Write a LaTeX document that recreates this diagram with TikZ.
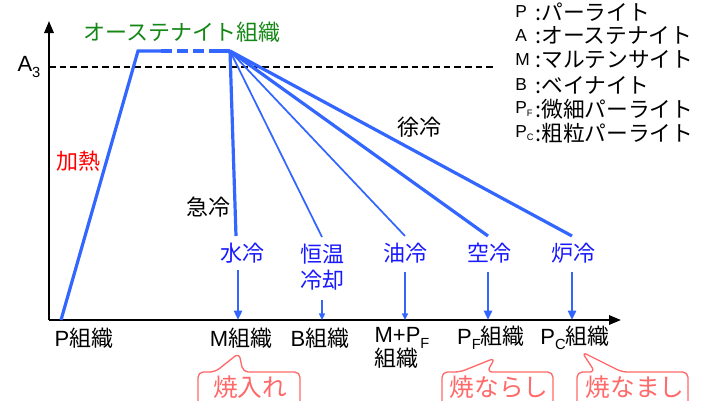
\documentclass[tikz,border=0pt]{standalone}
\usepackage{fontspec}
\setmainfont{Noto Sans CJK JP}
\newfontfamily\lat{Liberation Sans}
\usetikzlibrary{arrows.meta}
\definecolor{lineblue}{RGB}{51,102,255}
\definecolor{labblue}{RGB}{25,25,255}
\definecolor{austgreen}{RGB}{20,135,20}
\definecolor{callred}{RGB}{255,105,105}
\newcommand\lowsub[1]{\raisebox{-0.45ex}{\lat\fontsize{11}{11}\selectfont #1}}
\newcommand\legsub[1]{\raisebox{-0.3ex}{\lat\fontsize{7}{8}\selectfont #1}}
\tikzset{
  ax/.style={line width=1.6pt,-{Triangle[length=9pt,width=7pt]}},
  thickc/.style={line width=2.4pt,lineblue},
  thinc/.style={line width=1.3pt,lineblue},
  thickarr/.style={line width=2.2pt,lineblue,-{Triangle[length=7pt,width=6pt]}},
  thinarr/.style={line width=1.1pt,lineblue,-{Triangle[length=5pt,width=4.5pt]}},
  txt/.style={font=\fontsize{16.5}{19}\selectfont,inner sep=1pt},
  bluelab/.style={txt,text=labblue},
  calltxt/.style={font=\fontsize{18.5}{20}\selectfont,inner sep=1pt,text=callred},
  leg/.style={font=\fontsize{16.3}{17}\selectfont,inner sep=0pt,anchor=west},
  legl/.style={font=\lat\fontsize{13}{17}\selectfont,inner sep=0pt,anchor=west},
  callout/.style={draw=callred,line width=1pt,rounded corners=4pt,fill=white},
}
\begin{document}
\begin{tikzpicture}[x=0.75pt,y=-0.75pt]
\useasboundingbox (0,0) rectangle (720,400);
% axes
\coordinate (O) at (49,320);
\coordinate (Ytop) at (49,21);
\coordinate (Xend) at (621,320);
\draw[ax] (O) -- (Ytop);
\draw[ax] (O) -- (Xend);
% A3
\coordinate (A3l) at (49,67);
\coordinate (A3r) at (494,67);
\draw[line width=1pt,dash pattern=on 5pt off 3pt] (A3l) -- (A3r);
\node[txt,anchor=east] (a3) at (42,67) {{\lat A}\lowsub{3}};
% heating and plateau
\coordinate (h0) at (61,320);
\coordinate (h1) at (138,51);
\coordinate (p1) at (161,51);
\coordinate (p2) at (212,51);
\coordinate (tr) at (230,51);
\draw[thickc,line join=miter] (h0) -- (h1) -- (p1);
\draw[thickc,dash pattern=on 8pt off 4pt] (p1) -- (p2);
\draw[thickc] (p2) -- (tr);
\node[txt,text=austgreen] (aust) at (182,32) {オーステナイト組織};
\node[txt,text=red] (heat) at (78,161) {加熱};
\node[txt] (quick) at (208,207) {急冷};
\node[txt] (slow) at (419,127) {徐冷};
% cooling labels
\node[bluelab] (wq) at (242,253) {水冷};
\node[bluelab,align=center,font=\fontsize{16.5}{19}\selectfont] (iso) at (322,267) {恒温\\冷却};
\node[bluelab] (oq) at (405,253) {油冷};
\node[bluelab] (ac) at (489,253) {空冷};
\node[bluelab] (fc) at (573,253) {炉冷};
% line ends
\coordinate (e1) at (236,236);
\coordinate (e2) at (322,237);
\coordinate (e3) at (405,236);
\coordinate (e4) at (488,236);
\coordinate (e5) at (572,236);
\draw[thickc] (tr) -- (e1);
\draw[thinc] (tr) -- (e2);
\draw[thinc] (tr) -- (e3);
\draw[thickc] (tr) -- (e4);
\draw[thickc] (tr) -- (e5);
% arrows to axis
\coordinate (s1) at (238,270);
\coordinate (t1) at (238,320);
\coordinate (s2) at (322,300);
\coordinate (t2) at (322,320);
\coordinate (s3) at (405,272);
\coordinate (t3) at (405,320);
\coordinate (s4) at (488,272);
\coordinate (t4) at (488,320);
\coordinate (s5) at (572,272);
\coordinate (t5) at (572,320);
\draw[thickarr] (s1) -- (t1);
\draw[thinarr] (s2) -- (t2);
\draw[thinarr] (s3) -- (t3);
\draw[thickarr] (s4) -- (t4);
\draw[thickarr] (s5) -- (t5);
% bottom labels
\node[txt] (Pst) at (84,338) {{\lat P}組織};
\node[txt] (Mst) at (241,338) {{\lat M}組織};
\node[txt] (Bst) at (320,338) {{\lat B}組織};
\node[txt,align=left,anchor=north west,font=\fontsize{16.5}{18}\selectfont] (MPst) at (373,326) {{\lat M+P}\lowsub{F}\\組織};
\node[txt] (PFst) at (491,338) {{\lat P}\lowsub{F}組織};
\node[txt] (PCst) at (575,338) {{\lat P}\lowsub{C}組織};
% callouts
\draw[callout] (215,372) -- (239,353) -- (243,372) -- (300,372) -- (300,412) -- (198,412) -- (198,372) -- cycle;
\node[calltxt] (yakiire) at (250,387) {焼入れ};
\draw[callout] (460,372) -- (495,358) -- (487,372) -- (553,372) -- (553,412) -- (442,412) -- (442,372) -- cycle;
\node[calltxt] (yakinarashi) at (499,387) {焼ならし};
\draw[callout] (595,372) -- (582,352) -- (622,372) -- (688,372) -- (688,412) -- (577,412) -- (577,372) -- cycle;
\node[calltxt] (yakinamashi) at (635,387) {焼なまし};
% legend
\node[legl] (l1) at (515,12) {P};
\node[leg] (d1) at (535,12) {:パーライト};
\node[legl] (l2) at (515,36) {A};
\node[leg] (d2) at (535,36) {:オーステナイト};
\node[legl] (l3) at (515,60) {M};
\node[leg] (d3) at (535,60) {:マルテンサイト};
\node[legl] (l4) at (515,85) {B};
\node[leg] (d4) at (535,85) {:ベイナイト};
\node[legl] (l5) at (515,109) {P\legsub{F}};
\node[leg] (d5) at (535,109) {:微細パーライト};
\node[legl] (l6) at (515,133) {P\legsub{C}};
\node[leg] (d6) at (535,133) {:粗粒パーライト};
\end{tikzpicture}
\end{document}
